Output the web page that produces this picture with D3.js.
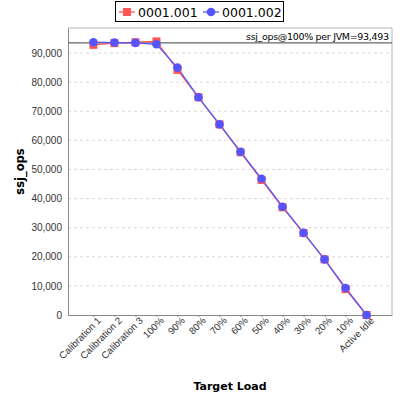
<!DOCTYPE html>
<html>
<head>
<meta charset="utf-8">
<script src="https://cdn.jsdelivr.net/npm/d3@7"></script>
<style>
  body { margin: 0; background: #fff; }
  svg { font-family: "DejaVu Sans", sans-serif; }
</style>
</head>
<body>
<svg width="400" height="400"></svg>
<script>
// Data set
var categories = ["Calibration 1", "Calibration 2", "Calibration 3", "100%", "90%", "80%", "70%",
                  "60%", "50%", "40%", "30%", "20%", "10%", "Active Idle"];
var series1 = [92800, 93400, 93700, 94000, 84200, 74800, 65500, 55900, 46400, 37000, 28200, 19100, 8900, 0];
var series2 = [93700, 93600, 93500, 93000, 85000, 74800, 65500, 56100, 46800, 37200, 28200, 19100, 9300, 0];
var seriesNames = ["0001.001", "0001.002"];
var yTicks = [0, 10000, 20000, 30000, 40000, 50000, 60000, 70000, 80000, 90000];
var refValue = 93493;

var svg = d3.select("svg");

// plot area
var plotLeft = 68, plotRight = 392, plotTop = 28, plotBottom = 315;

var xScale = d3.scalePoint()
  .domain(categories)
  .range([plotLeft, plotRight])
  .padding(1.21);

var yScale = d3.scaleLinear()
  .domain([0, 98600])
  .range([plotBottom, plotTop]);

// grid lines
svg.selectAll("line.grid")
  .data(yTicks.slice(1))
  .enter()
  .append("line")
  .attr("class", "grid")
  .attr("x1", plotLeft).attr("x2", plotRight)
  .attr("y1", function(d) { return yScale(d); })
  .attr("y2", function(d) { return yScale(d); })
  .attr("stroke", "#d8d8d8")
  .attr("stroke-dasharray", "3,3")
  .attr("stroke-width", 1);

// plot border (top / right)
svg.append("path")
  .attr("d", "M" + plotLeft + "," + plotTop + "H" + plotRight + "V" + plotBottom)
  .attr("fill", "none")
  .attr("stroke", "#b4b4b4");

// y axis
var yAxis = svg.append("g")
  .attr("transform", "translate(" + plotLeft + ",0)")
  .call(d3.axisLeft(yScale).tickValues(yTicks).tickSize(0).tickPadding(6)
    .tickFormat(d3.format(",")));
yAxis.select(".domain").attr("stroke", "#888");
yAxis.selectAll("text").attr("font-size", "10px").attr("fill", "#333");

// x axis
var xAxis = svg.append("g")
  .attr("transform", "translate(0," + plotBottom + ")")
  .call(d3.axisBottom(xScale).tickSize(2).tickSizeOuter(0));
xAxis.select(".domain").attr("stroke", "#888");
xAxis.selectAll(".tick line").attr("stroke", "#888");
xAxis.selectAll("text")
  .attr("font-size", "9.7px")
  .attr("fill", "#333")
  .attr("text-anchor", "end")
  .attr("dx", "0.1em")
  .attr("dy", "0.5em")
  .attr("transform", "rotate(-45)");

// reference line
svg.append("line")
  .attr("x1", plotLeft).attr("x2", plotRight)
  .attr("y1", yScale(refValue)).attr("y2", yScale(refValue))
  .attr("stroke", "#666")
  .attr("stroke-width", 1.2);

svg.append("text")
  .attr("x", plotRight - 3)
  .attr("y", yScale(refValue) - 3)
  .attr("text-anchor", "end")
  .attr("font-size", "9.5px")
  .attr("textLength", 143)
  .attr("lengthAdjust", "spacing")
  .attr("fill", "#000")
  .text("ssj_ops@100% per JVM=" + d3.format(",")(refValue));

// series lines
var line = d3.line()
  .x(function(d, i) { return xScale(categories[i]); })
  .y(function(d) { return yScale(d); });

svg.append("path").datum(series1)
  .attr("fill", "none").attr("stroke", "#ff5555").attr("stroke-width", 1.3)
  .attr("d", line);
svg.append("path").datum(series2)
  .attr("fill", "none").attr("stroke", "#5555ff").attr("stroke-width", 1.3)
  .attr("d", line);

// markers
svg.selectAll("rect.s1")
  .data(series1)
  .enter()
  .append("rect")
  .attr("class", "s1")
  .attr("x", function(d, i) { return xScale(categories[i]) - 4; })
  .attr("y", function(d) { return yScale(d) - 4; })
  .attr("width", 8).attr("height", 8)
  .attr("fill", "#ff5555");

svg.selectAll("circle.s2")
  .data(series2)
  .enter()
  .append("circle")
  .attr("class", "s2")
  .attr("cx", function(d, i) { return xScale(categories[i]); })
  .attr("cy", function(d) { return yScale(d); })
  .attr("r", 4.3)
  .attr("fill", "#5555ff");

// axis titles
svg.append("text")
  .attr("transform", "translate(24," + ((plotTop + plotBottom) / 2) + ") rotate(-90)")
  .attr("text-anchor", "middle")
  .attr("font-size", "11.5px")
  .attr("font-weight", "bold")
  .text("ssj_ops");

svg.append("text")
  .attr("x", (plotLeft + plotRight) / 2)
  .attr("y", 390)
  .attr("text-anchor", "middle")
  .attr("font-size", "11px")
  .attr("font-weight", "bold")
  .text("Target Load");

// legend
var legend = svg.append("g");
legend.append("rect")
  .attr("x", 115.5).attr("y", 1.5)
  .attr("width", 168).attr("height", 20)
  .attr("fill", "#fff").attr("stroke", "#000");

var legendColors = ["#ff5555", "#5555ff"];
var legendX = [119, 203];
seriesNames.forEach(function(name, i) {
  var g = legend.append("g").attr("transform", "translate(" + legendX[i] + ",12)");
  g.append("line").attr("x1", 0).attr("x2", 16).attr("stroke", legendColors[i]).attr("stroke-width", 1.3);
  if (i === 0) {
    g.append("rect").attr("x", 4).attr("y", -4).attr("width", 8).attr("height", 8).attr("fill", legendColors[i]);
  } else {
    g.append("circle").attr("cx", 8).attr("r", 4.3).attr("fill", legendColors[i]);
  }
  g.append("text").attr("x", 19).attr("y", 5)
    .attr("font-size", "12.5px").attr("fill", "#000").text(name);
});
</script>
</body>
</html>
